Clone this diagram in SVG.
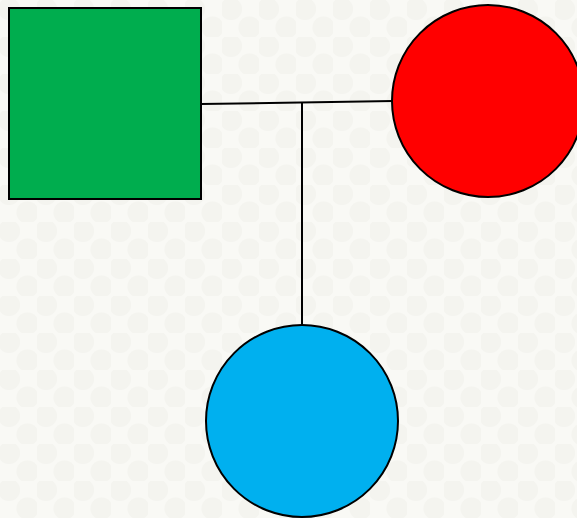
<svg xmlns="http://www.w3.org/2000/svg" width="577" height="518" viewBox="0 0 577 518">
  <style>
    .shape { stroke: #000; stroke-width: 2; }
    .link { stroke: #000; stroke-width: 2; fill: none; }
  </style>
  <defs>
    <!-- faint soft checker backdrop -->
    <pattern id="dots" width="37" height="37" patternUnits="userSpaceOnUse">
      <rect width="37" height="37" fill="#f9f9f5"/>
      <circle cx="9" cy="9" r="11" fill="#f4f4ef"/>
      <circle cx="27.5" cy="27.5" r="11" fill="#f4f4ef"/>
    </pattern>
  </defs>
  <rect width="577" height="518" fill="url(#dots)"/>

  <g id="connectors">
    <line class="link" x1="201" y1="104" x2="393" y2="101"/>
    <line class="link" x1="302" y1="103" x2="302" y2="327"/>
  </g>

  <g id="square">
    <rect class="shape" x="9" y="8" width="192" height="191" fill="#00ad4e"/>
  </g>
  <g id="red-circle">
    <circle class="shape" cx="488" cy="101" r="96" fill="#ff0000"/>
  </g>
  <g id="blue-circle">
    <circle class="shape" cx="302" cy="421" r="96" fill="#00b0ef"/>
  </g>
</svg>
